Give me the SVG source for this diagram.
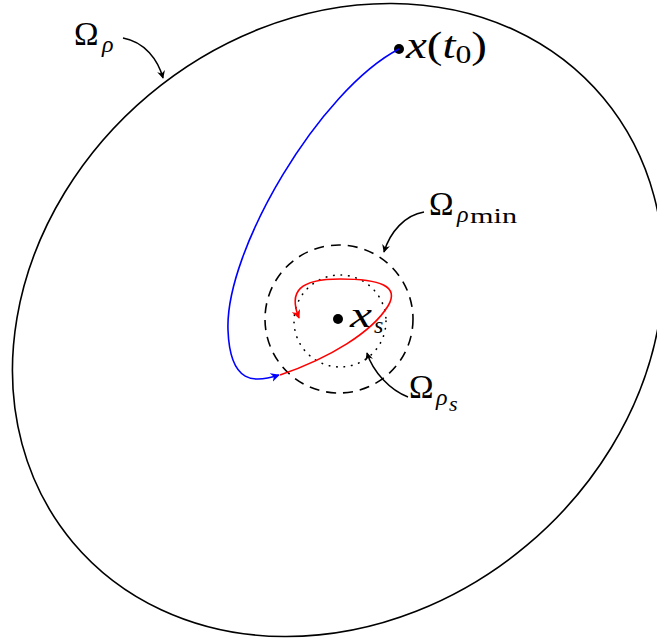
<svg xmlns="http://www.w3.org/2000/svg" width="657" height="643" viewBox="0 0 657 643">
<defs>
<style>
.ptr{fill:none;stroke:#000;stroke-width:1.5}
</style>
<marker id="ab" viewBox="0 0 10 10" refX="9" refY="5" markerWidth="8" markerHeight="8" orient="auto" markerUnits="userSpaceOnUse">
<path d="M0,0 L10,5 L0,10 L3,5 z" fill="#000"/>
</marker>
<marker id="ablue" viewBox="0 0 10 10" refX="9" refY="5" markerWidth="9" markerHeight="9" orient="auto" markerUnits="userSpaceOnUse">
<path d="M0,0 L10,5 L0,10 L3,5 z" fill="#0000ff"/>
</marker>
<marker id="ared" viewBox="0 0 10 10" refX="9" refY="5" markerWidth="9" markerHeight="9" orient="auto" markerUnits="userSpaceOnUse">
<path d="M0,0 L10,5 L0,10 L3,5 z" fill="#ff0000"/>
</marker>
</defs>
<rect width="657" height="643" fill="#fff"/>
<g id="omega-rho">
<ellipse cx="338" cy="320" rx="346" ry="294" transform="rotate(-40 338 320)" fill="none" stroke="#000" stroke-width="1.6"/>
</g>
<g id="omega-rho-min">
<circle cx="339" cy="319" r="74" fill="none" stroke="#000" stroke-width="1.6" stroke-dasharray="10,7"/>
</g>
<g id="omega-rho-s">
<circle cx="340" cy="321" r="46" fill="none" stroke="#000" stroke-width="1.6" stroke-dasharray="0.5,7" stroke-linecap="round"/>
</g>
<g id="xs" font-family="'Liberation Serif', 'DejaVu Serif', serif">
<circle cx="338" cy="319" r="5" fill="#000"/>
<text x="350" y="327" font-size="36" font-style="italic" textLength="22" lengthAdjust="spacingAndGlyphs">x</text>
<text x="374" y="333" font-size="24" font-style="italic">s</text>
</g>
<g id="x0" font-family="'Liberation Serif', 'DejaVu Serif', serif">
<circle cx="399" cy="49" r="5" fill="#000"/>
<text x="406" y="58" font-size="37" textLength="81" lengthAdjust="spacingAndGlyphs"><tspan font-style="italic">x</tspan>(<tspan font-style="italic">t</tspan><tspan font-size="25" dy="5">0</tspan><tspan dy="-5">)</tspan></text>
</g>
<g id="connectors">
<path d="M399,49 C320,90 225,250 228,330 C230,385 255,383 279,375" fill="none" stroke="#0000ff" stroke-width="1.6" marker-end="url(#ablue)"/>
<path d="M280,375 C330,358 372,332 388,306 C400,286 380,279 340,279 C300,279 288,291 299,318" fill="none" stroke="#ff0000" stroke-width="1.6" marker-end="url(#ared)"/>
<path class="ptr" d="M123,38 C145,42 158,60 163,78" marker-end="url(#ab)"/>
<path class="ptr" d="M424,212 C405,215 390,232 384,252" marker-end="url(#ab)"/>
<path class="ptr" d="M408,397 C390,390 373,372 367,353" marker-end="url(#ab)"/>
</g>
<g id="labels" font-family="'Liberation Serif', 'DejaVu Serif', serif" fill="#000">
<text x="74" y="45" font-size="33">Ω</text>
<text x="102" y="52" font-size="24" font-style="italic">ρ</text>
<text x="429" y="215" font-size="33">Ω</text>
<text x="457" y="222" font-size="24" font-style="italic">ρ</text>
<text x="470" y="223" font-size="22" textLength="47" lengthAdjust="spacingAndGlyphs">min</text>
<text x="409" y="398" font-size="33">Ω</text>
<text x="436" y="405" font-size="24" font-style="italic">ρ</text>
<text x="449" y="411" font-size="22" font-style="italic">s</text>
</g>
</svg>
